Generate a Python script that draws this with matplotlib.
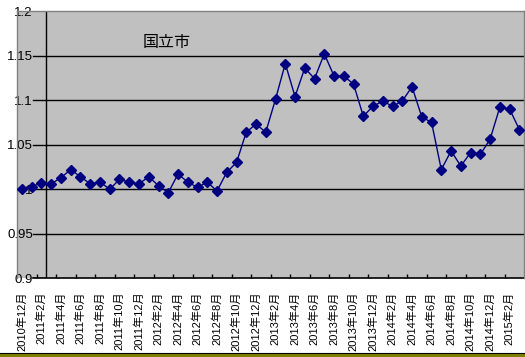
import numpy as np
import matplotlib
matplotlib.use("Agg")
import matplotlib.pyplot as plt
from matplotlib.patches import Rectangle
from matplotlib.lines import Line2D

plt.rcParams['font.family'] = ['Liberation Sans', 'Noto Sans CJK JP', 'DejaVu Sans']

# monthly index, 2010-12 .. 2015-03
months = []
for y in range(2010, 2016):
    for m in range(1, 13):
        if (y, m) >= (2010, 12) and (y, m) <= (2015, 3):
            months.append(f"{y}年{m}月")

values = [1.000, 1.003, 1.007, 1.006, 1.013, 1.022, 1.014, 1.006, 1.008, 1.000,
          1.011, 1.008, 1.006, 1.014, 1.004, 0.996, 1.017, 1.008, 1.002, 1.008,
          0.998, 1.019, 1.030, 1.064, 1.073, 1.064, 1.101, 1.141, 1.104, 1.136,
          1.124, 1.152, 1.127, 1.127, 1.118, 1.082, 1.093, 1.099, 1.093, 1.099,
          1.115, 1.081, 1.075, 1.022, 1.043, 1.026, 1.041, 1.039, 1.056, 1.092,
          1.090, 1.067]

yticks = [0.9, 0.95, 1.0, 1.05, 1.1, 1.15, 1.2]
title = "国立市"

W, H = 525, 357
fig = plt.figure(figsize=(W / 100, H / 100), dpi=100)
ax = fig.add_axes([17.1 / W, (H - 278.3) / H, 507.1 / W, 267.3 / H])
ax.set_facecolor('#c0c0c0')

x = np.arange(len(values))
ax.set_xlim(-0.5, len(values) - 0.5)
ax.set_ylim(0.9, 1.2)

for s in ['left', 'top', 'right']:
    ax.spines[s].set_color('#808080')
    ax.spines[s].set_linewidth(1)
ax.spines['bottom'].set_visible(False)

# gridlines, axis lines and the short y ticks (value axis crosses inside the area)
cross = 2.5
tick_left = 1.13
for v in yticks[1:-1]:
    ax.plot([cross, len(values) - 0.5], [v, v], color='black', lw=1, zorder=1)
for v in yticks[:-1]:
    ax.plot([tick_left, cross], [v, v], color='black', lw=1, zorder=1)
ax.plot([tick_left, len(values) - 0.5], [0.9, 0.9], color='black', lw=1.2,
        zorder=1, clip_on=False)
ax.plot([cross, cross], [0.9, 1.2], color='black', lw=1, zorder=1)

ax.plot(x, values, color='#000080', lw=1, marker='D', markersize=5.2,
        markerfacecolor='#000080', markeredgecolor='#000080', zorder=3)

# x: tick marks between every other category, labels on every other month
ax.set_xticks(np.arange(1.5, len(values) - 1, 2))
ax.set_xticklabels([])
ax.tick_params(axis='x', which='major', direction='in', length=3, width=1,
               color='black')
ax.set_xticks(x[::2], minor=True)
ax.set_xticklabels(months[::2], minor=True, rotation=90, fontsize=8,
                   va='top', ha='center')
ax.tick_params(axis='x', which='minor', length=0, pad=9.5)

ax.set_yticks(yticks)
ax.set_yticklabels([f"{v:g}" for v in yticks], fontsize=9.5)
ax.tick_params(axis='y', length=0, pad=-11.4)

fig.text(166.7 / W, (H - 43) / H, title, fontsize=11.5, ha='center',
         va='center', family=['Noto Sans CJK JP'])

fig.add_artist(Line2D([0, 1], [(H - 352.5) / H] * 2, color='black', lw=0.8,
                      transform=fig.transFigure))
fig.add_artist(Rectangle((0, 0), 1, 3.5 / H, transform=fig.transFigure,
                         color='#7f7f00', lw=0))

fig.savefig('out.png', dpi=100)
